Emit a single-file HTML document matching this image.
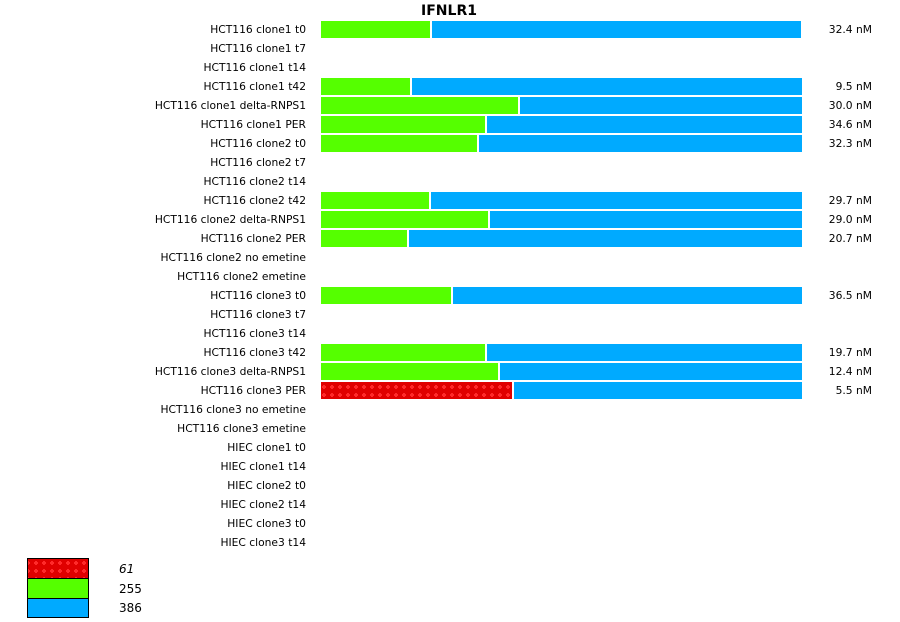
<!DOCTYPE html>
<html><head><meta charset="utf-8"><style>html,body{margin:0;padding:0;background:#fff}svg{display:block}text{font-family:"DejaVu Sans","Liberation Sans",sans-serif;font-size:10.7px;fill:#000}</style></head><body>
<svg width="900" height="622" xmlns="http://www.w3.org/2000/svg">
<defs><pattern id="p" width="8" height="8" patternUnits="userSpaceOnUse"><rect width="8" height="8" fill="#e00000"/><path d="M3 1h2v1h1v2h-1v1h-2v-1h-1v-2h1z" fill="#ff2a2a"/></pattern></defs>
<text x="449" y="15" text-anchor="middle" style="font-weight:bold;font-size:14px">IFNLR1</text>
<g text-anchor="end">
<text x="306" y="33">HCT116 clone1 t0</text>
<text x="306" y="52">HCT116 clone1 t7</text>
<text x="306" y="71">HCT116 clone1 t14</text>
<text x="306" y="90">HCT116 clone1 t42</text>
<text x="306" y="109">HCT116 clone1 delta-RNPS1</text>
<text x="306" y="128">HCT116 clone1 PER</text>
<text x="306" y="147">HCT116 clone2 t0</text>
<text x="306" y="166">HCT116 clone2 t7</text>
<text x="306" y="185">HCT116 clone2 t14</text>
<text x="306" y="204">HCT116 clone2 t42</text>
<text x="306" y="223">HCT116 clone2 delta-RNPS1</text>
<text x="306" y="242">HCT116 clone2 PER</text>
<text x="306" y="261">HCT116 clone2 no emetine</text>
<text x="306" y="280">HCT116 clone2 emetine</text>
<text x="306" y="299">HCT116 clone3 t0</text>
<text x="306" y="318">HCT116 clone3 t7</text>
<text x="306" y="337">HCT116 clone3 t14</text>
<text x="306" y="356">HCT116 clone3 t42</text>
<text x="306" y="375">HCT116 clone3 delta-RNPS1</text>
<text x="306" y="394">HCT116 clone3 PER</text>
<text x="306" y="413">HCT116 clone3 no emetine</text>
<text x="306" y="432">HCT116 clone3 emetine</text>
<text x="306" y="451">HIEC clone1 t0</text>
<text x="306" y="470">HIEC clone1 t14</text>
<text x="306" y="489">HIEC clone2 t0</text>
<text x="306" y="508">HIEC clone2 t14</text>
<text x="306" y="527">HIEC clone3 t0</text>
<text x="306" y="546">HIEC clone3 t14</text>
<text x="872" y="33">32.4 nM</text>
<text x="872" y="90">9.5 nM</text>
<text x="872" y="109">30.0 nM</text>
<text x="872" y="128">34.6 nM</text>
<text x="872" y="147">32.3 nM</text>
<text x="872" y="204">29.7 nM</text>
<text x="872" y="223">29.0 nM</text>
<text x="872" y="242">20.7 nM</text>
<text x="872" y="299">36.5 nM</text>
<text x="872" y="356">19.7 nM</text>
<text x="872" y="375">12.4 nM</text>
<text x="872" y="394">5.5 nM</text>
</g>
<g>
<rect x="321" y="21" width="109" height="17" fill="#55ff00"/><rect x="432" y="21" width="369" height="17" fill="#00aaff"/>
<rect x="321" y="78" width="89" height="17" fill="#55ff00"/><rect x="412" y="78" width="390" height="17" fill="#00aaff"/>
<rect x="321" y="97" width="197" height="17" fill="#55ff00"/><rect x="520" y="97" width="282" height="17" fill="#00aaff"/>
<rect x="321" y="116" width="164" height="17" fill="#55ff00"/><rect x="487" y="116" width="315" height="17" fill="#00aaff"/>
<rect x="321" y="135" width="156" height="17" fill="#55ff00"/><rect x="479" y="135" width="323" height="17" fill="#00aaff"/>
<rect x="321" y="192" width="108" height="17" fill="#55ff00"/><rect x="431" y="192" width="371" height="17" fill="#00aaff"/>
<rect x="321" y="211" width="167" height="17" fill="#55ff00"/><rect x="490" y="211" width="312" height="17" fill="#00aaff"/>
<rect x="321" y="230" width="86" height="17" fill="#55ff00"/><rect x="409" y="230" width="393" height="17" fill="#00aaff"/>
<rect x="321" y="287" width="130" height="17" fill="#55ff00"/><rect x="453" y="287" width="349" height="17" fill="#00aaff"/>
<rect x="321" y="344" width="164" height="17" fill="#55ff00"/><rect x="487" y="344" width="315" height="17" fill="#00aaff"/>
<rect x="321" y="363" width="177" height="17" fill="#55ff00"/><rect x="500" y="363" width="302" height="17" fill="#00aaff"/>
<rect x="321" y="382" width="191" height="17" fill="url(#p)"/><rect x="514" y="382" width="288" height="17" fill="#00aaff"/>
</g>
<rect x="27.5" y="558.5" width="61" height="20" fill="url(#p)" stroke="#000"/>
<rect x="27.5" y="578.5" width="61" height="20" fill="#55ff00" stroke="#000"/>
<rect x="27.5" y="598.5" width="61" height="19" fill="#00aaff" stroke="#000"/>
<text x="119" y="573" style="font-size:12px;font-style:italic">61</text>
<text x="119" y="593" style="font-size:12px">255</text>
<text x="119" y="612" style="font-size:12px">386</text>
</svg>
</body></html>
